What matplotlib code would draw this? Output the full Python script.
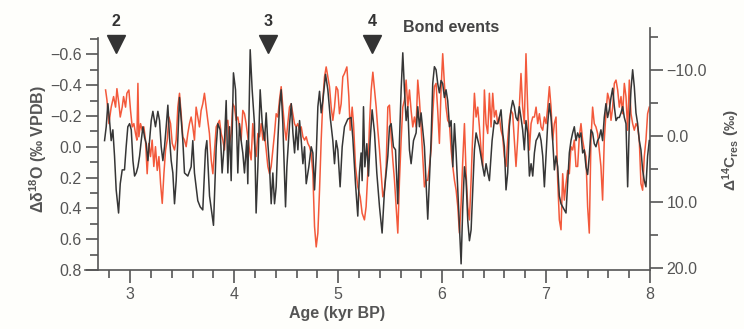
import numpy as np
import matplotlib
matplotlib.use('Agg')
import matplotlib.pyplot as plt
from matplotlib.ticker import MultipleLocator, FixedLocator, FuncFormatter

# black curve: delta d18O anomaly (left axis, permil VPDB)
black_age = [
    2.753, 2.769, 2.785, 2.801, 2.817, 2.833, 2.849, 2.865, 2.888, 2.904, 2.923, 2.945, 2.961, 2.977,
    2.994, 3.010, 3.026, 3.042, 3.058, 3.074, 3.090, 3.106, 3.122, 3.138, 3.154, 3.170, 3.186, 3.202,
    3.218, 3.243, 3.266, 3.282, 3.298, 3.314, 3.330, 3.346, 3.362, 3.378, 3.394, 3.410, 3.426, 3.442,
    3.474, 3.506, 3.522, 3.554, 3.586, 3.602, 3.618, 3.650, 3.673, 3.698, 3.724, 3.737, 3.763, 3.801,
    3.827, 3.843, 3.865, 3.884, 3.907, 3.923, 3.939, 3.955, 3.971, 3.993, 4.013, 4.035, 4.051, 4.067,
    4.083, 4.099, 4.121, 4.131, 4.154, 4.173, 4.195, 4.211,
    4.228, 4.250, 4.270, 4.292, 4.308, 4.324, 4.340, 4.356, 4.372, 4.388, 4.404, 4.420, 4.436, 4.452,
    4.468, 4.484, 4.494, 4.507, 4.533, 4.549, 4.565, 4.581, 4.597, 4.613, 4.629, 4.645, 4.661, 4.677,
    4.693, 4.718, 4.741, 4.757, 4.773, 4.789, 4.805, 4.821, 4.837, 4.853, 4.879, 4.901, 4.924, 4.949,
    4.965, 4.981,
    4.997, 5.019, 5.039, 5.061, 5.093, 5.125, 5.141, 5.167, 5.189, 5.205, 5.221, 5.231, 5.244, 5.257,
    5.276, 5.292, 5.308, 5.327, 5.350, 5.372, 5.398, 5.423, 5.446, 5.462, 5.478, 5.494, 5.510, 5.532,
    5.552, 5.574, 5.590, 5.606, 5.622, 5.638, 5.654, 5.670, 5.686, 5.702, 5.725, 5.750,
    5.766, 5.782, 5.798, 5.814, 5.830, 5.846, 5.862, 5.878, 5.894, 5.910, 5.926, 5.942, 5.958, 5.974,
    5.990, 6.006, 6.022, 6.038, 6.054, 6.071, 6.087, 6.103, 6.119, 6.135, 6.151, 6.167, 6.183, 6.199,
    6.215, 6.231, 6.247, 6.263, 6.279, 6.295, 6.311, 6.327, 6.359, 6.391, 6.407, 6.423, 6.439, 6.455,
    6.481, 6.503, 6.519,
    6.535, 6.551, 6.567, 6.583, 6.599, 6.615, 6.631, 6.647, 6.663, 6.679, 6.695, 6.711, 6.727, 6.743,
    6.759, 6.775, 6.791, 6.807, 6.823, 6.840, 6.856, 6.872, 6.888, 6.904, 6.920, 6.936, 6.952, 6.968,
    6.984, 7.000, 7.016, 7.032, 7.048, 7.064, 7.080, 7.096, 7.112, 7.128, 7.144, 7.160, 7.176, 7.192,
    7.208, 7.224, 7.240, 7.256, 7.272, 7.288,
    7.304, 7.320, 7.336, 7.352, 7.368, 7.384, 7.400, 7.416, 7.432, 7.448, 7.464, 7.480, 7.496, 7.512,
    7.528, 7.544, 7.560, 7.576, 7.592, 7.608, 7.625, 7.641, 7.657, 7.673, 7.689, 7.705, 7.721, 7.737,
    7.753, 7.769, 7.785, 7.801, 7.817, 7.833, 7.849, 7.865, 7.881, 7.897, 7.913, 7.929, 7.945, 7.961,
    7.977, 7.993,
]
black_d18o = [
    -0.04, -0.13, -0.28, -0.17, -0.04, -0.11, 0.06, 0.28, 0.43, 0.24, 0.15, 0.15, 0.00, -0.13,
    -0.15, -0.11, 0.09, 0.19, 0.17, 0.13, 0.06, -0.04, -0.13, -0.06, -0.02, 0.09, -0.04, -0.17,
    -0.23, -0.13, -0.23, -0.17, 0.00, 0.09, 0.00, -0.13, -0.27, -0.06, 0.09, 0.17, 0.37, 0.22,
    -0.32, -0.04, 0.17, 0.19, 0.13, -0.04, 0.17, 0.35, 0.39, 0.41, 0.02, -0.04, 0.32, 0.51,
    0.00, -0.15, -0.11, 0.17, -0.04, -0.30, 0.17, -0.13, 0.22, -0.48, -0.37, 0.17, -0.15, -0.04,
    0.04, 0.17, -0.04, 0.24, -0.63, -0.37, -0.15, 0.43,
    0.13, -0.37, -0.15, -0.04, -0.22, -0.02, 0.13, 0.37, 0.17, 0.37, 0.26, -0.04, -0.26, -0.37,
    -0.15, 0.17, 0.39, 0.13, -0.15, -0.28, -0.09, 0.04, -0.13, 0.02, -0.17, -0.04, 0.11, 0.00,
    0.24, 0.13, 0.00, 0.04, 0.28, 0.06, -0.26, -0.36, -0.22, -0.30, -0.47, -0.37, -0.19, -0.04,
    0.11, -0.04,
    0.02, 0.26, 0.00, -0.13, -0.18, -0.19, -0.06, 0.24, 0.45, 0.17, 0.04, 0.22, -0.26, 0.13,
    -0.02, 0.19, -0.04, -0.24, -0.09, 0.17, 0.39, 0.56, 0.28, 0.17, 0.06, -0.13, -0.15, 0.00,
    0.02, 0.37, -0.04, -0.37, -0.61, -0.37, -0.17, -0.26, 0.02, 0.11, -0.04, -0.09,
    -0.26, -0.13, -0.22, -0.11, 0.00, 0.24, 0.47, 0.22, -0.04, -0.41, -0.52, -0.50, -0.41, -0.35,
    -0.43, -0.41, -0.32, -0.37, -0.30, -0.13, -0.17, 0.13, -0.15, 0.04, 0.28, 0.52, 0.76, 0.39,
    0.13, 0.22, 0.48, 0.61, 0.54, 0.28, 0.02, -0.09, 0.00, 0.13, 0.19, 0.11, 0.17, 0.22,
    -0.04, -0.17, -0.15,
    -0.15, -0.19, -0.24, -0.09, 0.00, 0.28, 0.17, -0.13, -0.24, -0.30, -0.26, -0.19, -0.17, -0.26,
    -0.19, -0.11, 0.02, -0.17, -0.09, 0.19, 0.11, 0.19, 0.04, -0.04, -0.06, -0.09, -0.04, 0.06,
    0.26, 0.06, -0.15, -0.28, -0.19, -0.04, 0.15, 0.06, 0.13, 0.32, 0.37, 0.39, 0.41, 0.43,
    0.24, 0.04, -0.04, -0.09, -0.13, -0.04,
    -0.09, -0.06, -0.09, 0.04, 0.02, 0.13, 0.18, 0.06, -0.11, -0.09, -0.02, 0.00, -0.04, -0.06,
    -0.11, -0.04, -0.19, -0.28, -0.19, -0.24, -0.32, -0.38, -0.26, -0.17, -0.19, -0.19, -0.22, -0.26,
    -0.19, -0.15, 0.26, -0.15, -0.37, -0.50, -0.39, -0.22, -0.15, -0.04, 0.02, 0.15, 0.22, 0.26,
    0.06, -0.04,
]

# red curve: residual D14C (right axis, permil)
red_age = [
    2.763, 2.776, 2.795, 2.817, 2.840, 2.859, 2.872, 2.891, 2.904, 2.923, 2.936, 2.955, 2.968, 2.987,
    3.003, 3.019, 3.035, 3.051, 3.064, 3.074, 3.083, 3.099, 3.115, 3.131, 3.147, 3.163, 3.179, 3.195,
    3.211, 3.227, 3.243, 3.260, 3.276, 3.292, 3.308, 3.324, 3.340, 3.356, 3.372, 3.388, 3.404, 3.426,
    3.442,
    3.458, 3.474, 3.490, 3.506, 3.522, 3.538, 3.554, 3.570, 3.586, 3.602, 3.618, 3.634, 3.650, 3.666,
    3.682, 3.698, 3.714, 3.730, 3.746, 3.762, 3.779, 3.795, 3.811, 3.827, 3.843, 3.859, 3.875, 3.891,
    3.907, 3.923, 3.939, 3.955, 3.971, 3.987, 4.003, 4.019, 4.035, 4.051, 4.067, 4.083, 4.099, 4.115,
    4.131, 4.147, 4.163, 4.179, 4.195, 4.211,
    4.228, 4.244, 4.260, 4.276, 4.292, 4.308, 4.324, 4.340, 4.356, 4.372, 4.388, 4.404, 4.420, 4.436,
    4.452, 4.468, 4.484, 4.500, 4.516, 4.532, 4.548, 4.564, 4.580, 4.596, 4.612, 4.628, 4.645, 4.661,
    4.677, 4.693, 4.709, 4.725, 4.741, 4.757, 4.773, 4.789, 4.805, 4.821, 4.837, 4.853, 4.869, 4.885,
    4.901, 4.917, 4.933, 4.949, 4.965, 4.981,
    4.997, 5.013, 5.029, 5.045, 5.061, 5.084, 5.103, 5.116, 5.135, 5.148, 5.167, 5.189, 5.212, 5.231,
    5.253, 5.269, 5.285, 5.302, 5.318, 5.334, 5.350, 5.366, 5.382, 5.398, 5.414, 5.430, 5.446, 5.462,
    5.478, 5.494, 5.510, 5.526, 5.542, 5.558, 5.574, 5.590, 5.606, 5.622, 5.638, 5.654, 5.670, 5.686,
    5.702, 5.718, 5.734, 5.750,
    5.766, 5.782, 5.798, 5.814, 5.830, 5.846, 5.862, 5.878, 5.894, 5.910, 5.926, 5.942, 5.958, 5.974,
    5.990, 6.006, 6.022, 6.038, 6.054, 6.071, 6.087, 6.103, 6.119, 6.135, 6.151, 6.167, 6.183, 6.199,
    6.215, 6.231, 6.247, 6.263, 6.279, 6.295, 6.311, 6.327, 6.343, 6.359, 6.375, 6.391, 6.407, 6.423,
    6.439, 6.455, 6.471, 6.487, 6.503, 6.519,
    6.535, 6.551, 6.567, 6.583, 6.599, 6.615, 6.631, 6.647, 6.663, 6.679, 6.695, 6.711, 6.727, 6.743,
    6.759, 6.775, 6.791, 6.807, 6.823, 6.840, 6.856, 6.872, 6.888, 6.904, 6.920, 6.936, 6.952, 6.968,
    6.984, 7.000, 7.016, 7.032, 7.048, 7.064, 7.080, 7.096, 7.112, 7.128, 7.144, 7.160, 7.176, 7.192,
    7.208, 7.224, 7.240, 7.256, 7.272, 7.288,
    7.304, 7.320, 7.336, 7.352, 7.368, 7.384, 7.400, 7.416, 7.432, 7.448, 7.464, 7.480, 7.496, 7.512,
    7.528, 7.544, 7.560, 7.576, 7.592, 7.608, 7.625, 7.641, 7.657, 7.673, 7.689, 7.705, 7.721, 7.737,
    7.753, 7.769, 7.785, 7.801, 7.817, 7.833, 7.849, 7.865, 7.881, 7.897, 7.913, 7.929, 7.945, 7.961,
    7.977, 7.993,
]
red_d14c = [
    -7.0, -5.5, -1.9, -4.4, -6.0, -4.4, -7.2, -4.9, -2.9, -4.4, -6.0, -4.4, -6.5, -7.0,
    -3.9, -1.4, -1.9, -0.4, 0.6, -8.0, 0.1, -1.9, -0.9, -1.4, 0.6, 5.7, 1.1, 3.1,
    0.6, 4.6, 1.6, 5.2, 3.1, 7.2, 10.2, 5.7, 2.1, 0.6, -2.9, -1.9, 1.1, 2.1,
    0.6,
    -4.4, -6.5, -3.4, 0.1, 0.6, 1.6, -0.4, -1.9, -2.9, -1.4, 0.6, -4.4, -2.9, -1.4,
    -3.9, -4.9, -6.5, -4.4, -2.4, -0.4, 3.6, 5.7, 2.1, -1.4, -1.9, -2.4, -0.4, 0.6,
    2.1, -1.9, -2.4, 1.1, -0.4, -4.9, -4.4, -2.4, -2.9, -1.4, 0.6, -3.9, -3.4, -1.9,
    0.1, 2.1, 3.6, -1.9, 1.1, 3.1,
    -0.4, 0.1, -1.9, 0.6, -0.4, 2.1, 4.6, 5.7, 4.6, 2.1, -0.4, -3.4, -2.9, -5.5,
    -7.5, -4.4, -1.4, 0.6, -1.9, -4.4, -4.9, -3.4, -1.9, -1.4, -1.9, -0.9, -1.4, 0.1,
    0.6, 0.1, 1.1, 1.6, 2.6, 5.7, 13.7, 16.8, 14.7, 8.2, 0.6, -5.5, -9.0, -10.5,
    -9.0, -7.5, -4.4, -2.4, -4.4, -7.5,
    -7.0, -3.4, -4.9, -9.0, -9.5, -10.5, -6.0, -0.9, -4.4, -1.9, 4.6, 7.7, 9.2, 11.7,
    12.7, 10.7, 5.7, -1.9, -7.0, -9.7, -7.0, -4.4, -0.9, 2.1, 5.7, 9.2, 8.2, 4.6,
    -4.4, -4.7, 0.1, 3.6, 6.7, 10.7, 14.7, 6.7, 0.6, -4.4, -5.5, -8.5, -4.4, -7.0,
    -3.9, -1.4, -2.9, -1.4,
    -8.5, -5.5, -1.4, 3.1, 7.7, 6.7, 6.7, 4.6, 2.1, -3.4, -7.5, -8.0, -3.9, 1.1,
    -7.0, -12.5, -8.0, -4.4, -2.4, -1.9, 2.1, 4.6, 6.7, 8.2, 10.7, 14.7, 10.2, 3.6,
    -1.9, 5.7, 10.7, 12.7, 6.7, -0.4, -6.5, -2.9, -4.4, -1.4, 2.1, 4.6, -7.0, -1.9,
    -0.4, -6.5, -1.4, -6.5, -2.9, -3.9,
    -1.9, -2.9, -0.9, 0.1, 3.1, 4.6, 0.6, -2.4, -3.9, -3.4, 0.6, 4.6, 0.6, -4.4,
    -9.5, -4.4, -1.9, -12.5, -4.4, 2.1, -1.9, -2.9, -2.9, -4.4, -1.9, -3.4, -1.4, -0.9,
    -2.9, -1.9, -4.4, -7.5, -4.4, 0.6, -1.9, -2.9, 6.7, 12.7, 14.2, 5.7, 9.7, 7.2,
    5.2, 5.7, 1.6, 2.1, 0.6, 4.6,
    4.6, 0.1, -1.9, 0.6, 2.1, 3.1, 10.7, 14.7, 0.6, -4.4, -1.9, -1.4, -0.4, 2.1,
    4.6, 9.7, 0.6, -3.4, -6.5, -5.5, -2.4, -4.4, -8.0, -8.5, -7.0, -4.4, -6.0, -3.4,
    -8.0, -6.0, -0.9, -8.5, -3.4, -1.9, -0.9, -1.9, -1.4, 0.6, 7.2, 8.2, 3.1, 0.6,
    -3.4, -4.4,
]

bond_ages = [2.86, 4.33, 5.33]
bond_labels = ['2', '3', '4']

plt.rcParams['font.family'] = ['Liberation Sans', 'DejaVu Sans']
plt.rcParams['mathtext.fontset'] = 'custom'
plt.rcParams['mathtext.rm'] = 'Liberation Sans:bold'
plt.rcParams['mathtext.bf'] = 'Liberation Sans:bold'
plt.rcParams['mathtext.it'] = 'Liberation Sans:bold:italic'

grey = '#555555'
dark = '#333333'


def fmt(v, pos):
    s = '%.1f' % v
    if s == '-0.0':
        s = '0.0'
    return s.replace('-', '\u2212')


fig = plt.figure(figsize=(7.44, 3.29), dpi=100, facecolor='#fefefb')
ax = fig.add_axes([85 / 744, 1 - 270 / 329, 565 / 744, 242 / 329])
ax2 = ax.twinx()

ax2.plot(red_age, red_d14c, color='#f3593b', lw=1.1)
ax.plot(black_age, black_d18o, color='#363636', lw=1.1)
ax.set_zorder(2)
ax2.set_zorder(1)
ax.patch.set_visible(False)

ax.set_xlim(2.565, 8.0)
ax.set_ylim(0.8, -0.771)
ax2.set_ylim(20.3, -16.4)

for s in ['top', 'right']:
    ax.spines[s].set_visible(False)
for s in ['top', 'left', 'bottom']:
    ax2.spines[s].set_visible(False)
ax.spines['left'].set_position(('data', 2.692))
ax.spines['left'].set_bounds(-0.706, 0.8)
for sp in [ax.spines['left'], ax.spines['bottom'], ax2.spines['right']]:
    sp.set_color(grey)
    sp.set_linewidth(1.2)

ax.xaxis.set_major_locator(FixedLocator([3, 4, 5, 6, 7, 8]))
ax.xaxis.set_minor_locator(FixedLocator(np.arange(2.8, 7.9, 0.2)))
ax.yaxis.set_major_locator(MultipleLocator(0.2))
ax.yaxis.set_minor_locator(MultipleLocator(0.1))
ax.yaxis.set_major_formatter(FuncFormatter(fmt))
ax2.yaxis.set_major_locator(MultipleLocator(10))
ax2.yaxis.set_minor_locator(MultipleLocator(5))
ax2.yaxis.set_major_formatter(FuncFormatter(fmt))

for a in [ax, ax2]:
    a.tick_params(which='major', direction='out', length=9, width=1.2, color=grey,
                  labelcolor=grey, labelsize=11.5, pad=3)
    a.tick_params(which='minor', direction='out', length=5.5, width=1.2, color=grey)
ax.tick_params(axis='x', which='major', pad=3)

ax.set_xlabel('Age (kyr BP)', fontsize=11.5, fontweight='bold', color=grey)
ax.xaxis.set_label_coords(0.446, -0.15)
ax.set_ylabel('\u0394\u03b4$^{18}$O (\u2030 VPDB)', fontsize=11.5, fontweight='bold', color=grey)
ax.yaxis.set_label_coords(-0.064, 0.5)
fig.text(731 / 744, 1 - 150 / 329, '\u0394$^{14}$C$_{\\mathrm{res}}$ (\u2030)', rotation=90,
         ha='center', va='center', fontsize=11, fontweight='bold', color=grey)

# Bond events
ax.plot(bond_ages, [-0.667] * len(bond_ages), ls='none', marker='v', ms=13,
        color=dark, clip_on=False, zorder=5)
for a, lab in zip(bond_ages, bond_labels):
    ax.text(a, -0.81, lab, ha='center', va='center', fontsize=11.5, fontweight='bold',
            color=dark, clip_on=False)
ax.text(5.625, -0.777, 'Bond events', ha='left', va='center', fontsize=11.5,
        fontweight='bold', color='#444444', clip_on=False)

fig.savefig('out.png', dpi=100, facecolor=fig.get_facecolor())
